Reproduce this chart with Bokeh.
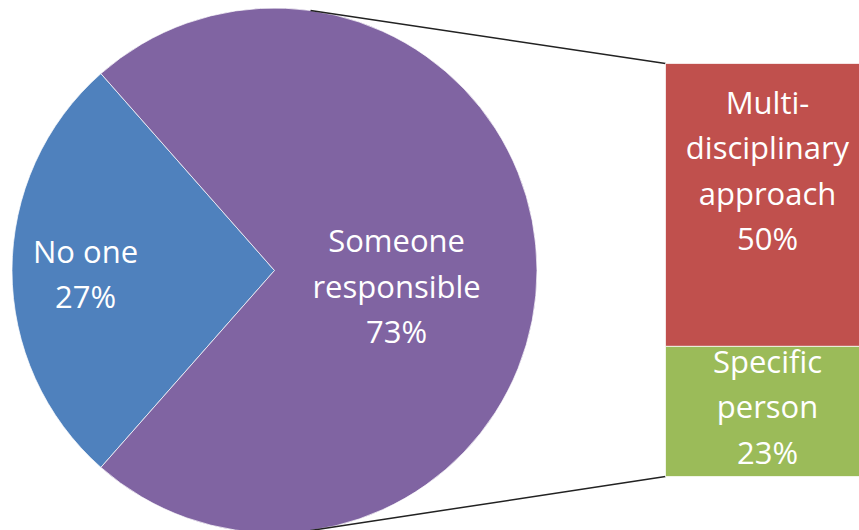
import numpy as np
from bokeh.plotting import figure
from bokeh.models import Range1d
from bokeh.embed import file_html
from bokeh.resources import INLINE
from bokeh.core.properties import value

# ---- data ----
pie_labels = ["No one", "Someone responsible"]
pie_values = [27, 73]
bar_labels = ["Multi-disciplinary approach", "Specific person"]
bar_values = [50, 23]

# ---- style / layout ----
pie_colors = ["#4F81BD", "#8064A2"]
bar_colors = ["#C0504D", "#9BBB59"]
W, H = 859, 530
CX, CY, R = 274, H - 270, 262.5
BAR_L, BAR_R = 665, 869
BAR_TOP, BAR_BOT = H - 63, H - 476
CONNECT_ANG = np.deg2rad(82.1)
FONT = "Open Sans"
FS = "31px"
LH = 45.5
PIE_LABEL_FRAC = [0.72, 0.465]
PIE_LABEL_DY = [-3, -15]
BAR_LABEL_DY = [35, 5]
WRAP = 12


def wrap(s, width=WRAP):
    toks = []
    for w in s.split(" "):
        if "-" in w[:-1]:
            a, b = w.split("-", 1)
            toks += [(a + "-", ""), (b, " ")]
        else:
            toks.append((w, " "))
    lines, cur = [], ""
    for t, sep in toks:
        if not cur:
            cur = t
        else:
            joiner = "" if cur.endswith("-") else " "
            cand = cur + joiner + t
            if len(cand) <= width:
                cur = cand
            else:
                lines.append(cur)
                cur = t
    if cur:
        lines.append(cur)
    return lines


p = figure(width=W, height=H, x_range=Range1d(0, W), y_range=Range1d(0, H),
           output_backend="svg", toolbar_location=None, min_border=0,
           x_axis_location=None, y_axis_location=None)
p.grid.visible = False
p.outline_line_color = None
p.background_fill_color = "white"
p.border_fill_color = "white"

# ---- pie ----
total = float(sum(pie_values))
fr = [v / total for v in pie_values]
starts, ends = [], []
a = np.pi - fr[0] * np.pi
for f in fr:
    starts.append(a)
    a = a + 2 * np.pi * f
    ends.append(a)
p.wedge(x=[CX] * len(pie_values), y=[CY] * len(pie_values), radius=R,
        start_angle=starts, end_angle=ends, fill_color=pie_colors,
        line_color="white", line_width=0.7)

# connector lines
bx = [BAR_L, BAR_L]
by = [BAR_TOP, BAR_BOT]
px_ = [CX + R * np.cos(CONNECT_ANG), CX + R * np.cos(-CONNECT_ANG)]
py_ = [CY + R * np.sin(CONNECT_ANG), CY + R * np.sin(-CONNECT_ANG)]
p.segment(x0=px_, y0=py_, x1=bx, y1=by, line_color="#222222", line_width=1.5)

# ---- bar ----
scale = (BAR_TOP - BAR_BOT) / float(sum(bar_values))
tops, bots = [], []
t = BAR_TOP
for v in bar_values:
    tops.append(t)
    t = t - v * scale
    bots.append(t)
p.quad(left=[BAR_L] * len(bar_values), right=[BAR_R] * len(bar_values),
       top=tops, bottom=bots, fill_color=bar_colors, line_color="white", line_width=0.7)

# ---- labels ----
tx, ty, tt = [], [], []
for i, (lab, v) in enumerate(zip(pie_labels, pie_values)):
    mid = (starts[i] + ends[i]) / 2
    lx = CX + PIE_LABEL_FRAC[i] * R * np.cos(mid)
    ly = CY + PIE_LABEL_FRAC[i] * R * np.sin(mid) + PIE_LABEL_DY[i]
    lines = wrap(lab) + [f"{v}%"]
    n = len(lines)
    for k, ln in enumerate(lines):
        tx.append(lx)
        ty.append(ly - (k - (n - 1) / 2) * LH)
        tt.append(ln)
for i, (lab, v) in enumerate(zip(bar_labels, bar_values)):
    lx = (BAR_L + BAR_R) / 2
    ly = (tops[i] + bots[i]) / 2 + BAR_LABEL_DY[i]
    lines = wrap(lab) + [f"{v}%"]
    n = len(lines)
    for k, ln in enumerate(lines):
        tx.append(lx)
        ty.append(ly - (k - (n - 1) / 2) * LH)
        tt.append(ln)

p.text(x=tx, y=ty, text=tt, text_align="center", text_baseline="middle",
       text_font=value(FONT), text_font_size=FS, text_color="white")

open("out.html", "w").write(file_html(p, INLINE))
